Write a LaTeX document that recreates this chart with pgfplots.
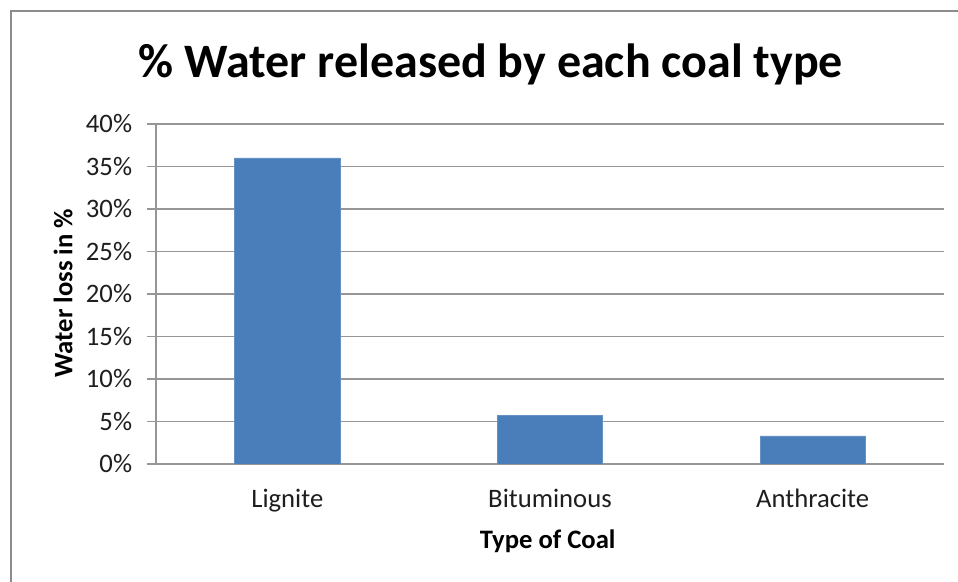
\documentclass[border=0pt]{standalone}
\usepackage{pgfplots}
\pgfplotsset{compat=1.18}
\usepackage{fontspec}
\setmainfont{Carlito}
\definecolor{barblue}{RGB}{74,126,187}
\definecolor{gridgray}{RGB}{150,150,150}
\definecolor{framegray}{RGB}{140,140,140}
\definecolor{txt}{RGB}{30,30,30}
\begin{document}
\begin{tikzpicture}
\useasboundingbox (0,0) rectangle (718.5pt,436.5pt);
\fill[white] (0,0) rectangle (718.5pt,436.5pt);
\draw[framegray, line width=1.5pt] (718.5pt,428.25pt) -- (8.25pt,428.25pt) -- (8.25pt,0pt);
\begin{axis}[
  at={(117pt,88.5pt)}, anchor=south west,
  scale only axis, width=591pt, height=255pt,
  xmin=-0.5, xmax=2.5, ymin=0, ymax=40,
  xtick=data, xticklabels={Lignite,Bituminous,Anthracite},
  ytick={0,5,...,40},
  yticklabel={\pgfmathprintnumber{\tick}\%},
  /pgf/number format/assume math mode=true,
  axis lines*=left,
  axis line style={gridgray, line width=1pt},
  ymajorgrids, grid style={gridgray, line width=1pt},
  tick align=outside, major tick length=6.75pt,
  ytick style={gridgray, line width=1pt},
  xtick style={draw=none},
  ticklabel style={font=\fontsize{20}{22}\selectfont, text=txt},
  yticklabel style={inner sep=0pt, xshift=-11pt},
  xticklabel style={anchor=base, inner sep=0pt, yshift=-26pt},
  title={\% Water released by each coal type},
  title style={at={(rel axis cs:0.425,1.113)}, anchor=base, font=\fontsize{36}{40}\selectfont\bfseries, text=black},
  xlabel={Type of Coal},
  xlabel style={at={(rel axis cs:0.497,-0.25)}, anchor=base, font=\fontsize{20}{24}\selectfont\bfseries, text=black},
  ylabel={Water loss in \%},
  ylabel style={at={(rel axis cs:-0.118,0.503)}, anchor=center, rotate=0, font=\fontsize{20}{24}\selectfont\bfseries, text=black},
  ybar, bar width=0.4,
]
\addplot[fill=barblue, draw=barblue!85!white, line width=0.5pt] coordinates {(0,36.0) (1,5.75) (2,3.3)};
\end{axis}
\end{tikzpicture}
\end{document}
